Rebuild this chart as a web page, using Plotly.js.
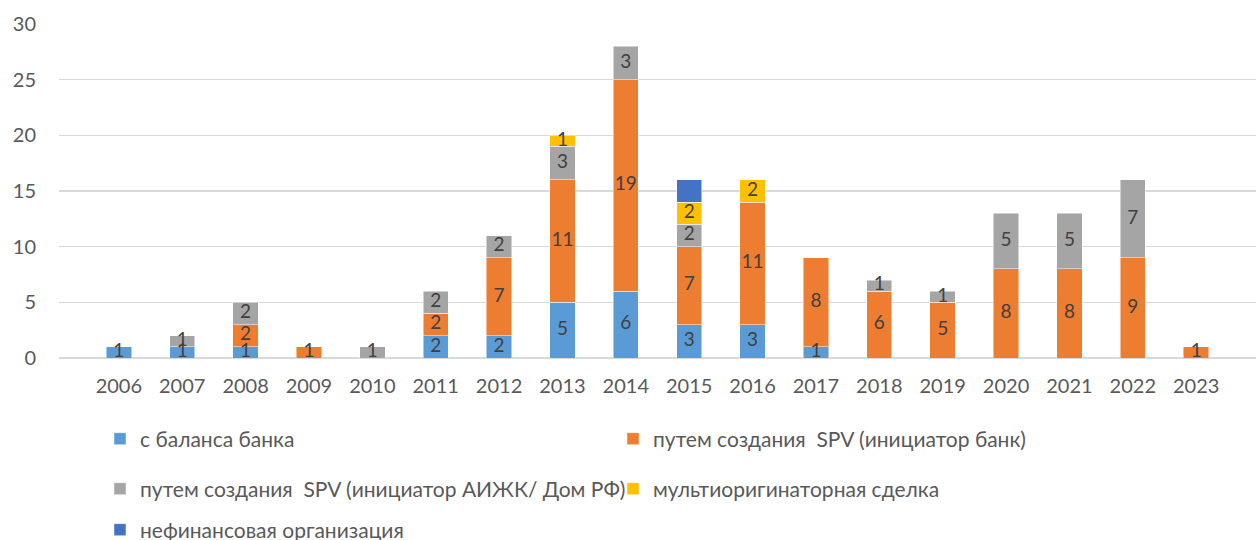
<!DOCTYPE html>
<html><head><meta charset="utf-8">
<script src="https://cdn.plot.ly/plotly-3.0.1.min.js"></script>
<style>html,body{margin:0;padding:0;background:#fff}#c{width:1256px;height:540px}</style>
</head><body><div id="c"></div>
<script>
const years = ['2006','2007','2008','2009','2010','2011','2012','2013','2014','2015','2016','2017','2018','2019','2020','2021','2022','2023'];
const balance    = [1,1,1,0,0,2,2,5,6,3,3,1,0,0,0,0,0,0];
const spvBank    = [0,0,2,1,0,2,7,11,19,7,11,8,6,5,8,8,9,1];
const spvDomRF   = [0,1,2,0,1,2,2,3,3,2,0,0,1,1,5,5,7,0];
const multiOrig  = [0,0,0,0,0,0,0,1,0,2,2,0,0,0,0,0,0,0];
const nonFin     = [0,0,0,0,0,0,0,0,0,2,0,0,0,0,0,0,0,0];
const names = ['с баланса банка','путем создания  SPV (инициатор банк)','путем создания  SPV (инициатор АИЖК/ Дом РФ)','мультиоригинаторная сделка','нефинансовая организация'];
const series = [balance, spvBank, spvDomRF, multiOrig, nonFin];
const colors = ['#5B9BD5','#ED7D31','#A5A5A5','#FFC000','#4472C4'];
const showLabel = [true,true,true,true,false];
const legendOf = ['legend','legend','legend2','legend2','legend3'];

const FONT = 'Lato, "Open Sans", sans-serif';
const traces = [];
const base = years.map(()=>0);
const labelTraces = [];
series.forEach((vals, i) => {
  traces.push({
    type:'bar', x: years, y: vals.map(v=>v===0?null:v), name: names[i],
    marker:{color: colors[i], line:{color:'rgba(255,255,255,0.6)', width:0.8}},
    legend: legendOf[i], hoverinfo:'y+name'
  });
  if (showLabel[i]) {
    const xs=[], ys=[], ts=[];
    vals.forEach((v,j)=>{ if(v>0){ xs.push(years[j]); ys.push(base[j]+v/2); ts.push(String(v)); } });
    labelTraces.push({type:'scatter', mode:'text', x:xs, y:ys, text:ts, showlegend:false,
      textfont:{family:FONT, size:19, color:'#404040'}, hoverinfo:'skip', cliponaxis:false});
  }
  vals.forEach((v,j)=>{ base[j]+=v; });
});

const legendCommon = {orientation:'h', xref:'container', yref:'container', xanchor:'left', yanchor:'middle',
  entrywidth:468, entrywidthmode:'pixels',
  font:{family:FONT, size:21, color:'#595959'}, bgcolor:'rgba(0,0,0,0)', itemclick:false, traceorder:'normal'};
const LX = 100/1256;

const layout = {
  width:1256, height:540,
  margin:{l:59, r:0, t:24, b:182},
  paper_bgcolor:'#fff', plot_bgcolor:'#fff',
  barmode:'stack', bargap:0.6,
  font:{family:FONT, size:20, color:'#595959'},
  xaxis:{type:'category', showgrid:false, showline:false, ticks:'', ticklabelstandoff:14, tickfont:{family:FONT,size:20,color:'#595959'}, fixedrange:true},
  yaxis:{range:[0,30], dtick:5, tick0:0, showgrid:true, gridcolor:'#D9D9D9', gridwidth:1.3, zeroline:true, zerolinecolor:'#D9D9D9', zerolinewidth:1.3,
    showline:false, ticks:'', ticklabelstandoff:22, tickfont:{family:FONT,size:20,color:'#595959'}, fixedrange:true},
  legend: Object.assign({}, legendCommon, {x:LX, y:1-439/540}),
  legend2: Object.assign({}, legendCommon, {x:LX, y:1-489/540}),
  legend3: Object.assign({}, legendCommon, {x:LX, y:1-530/540}),
  showlegend:true
};
Plotly.newPlot('c', traces.concat(labelTraces), layout, {displayModeBar:false, staticPlot:true});
</script></body></html>
